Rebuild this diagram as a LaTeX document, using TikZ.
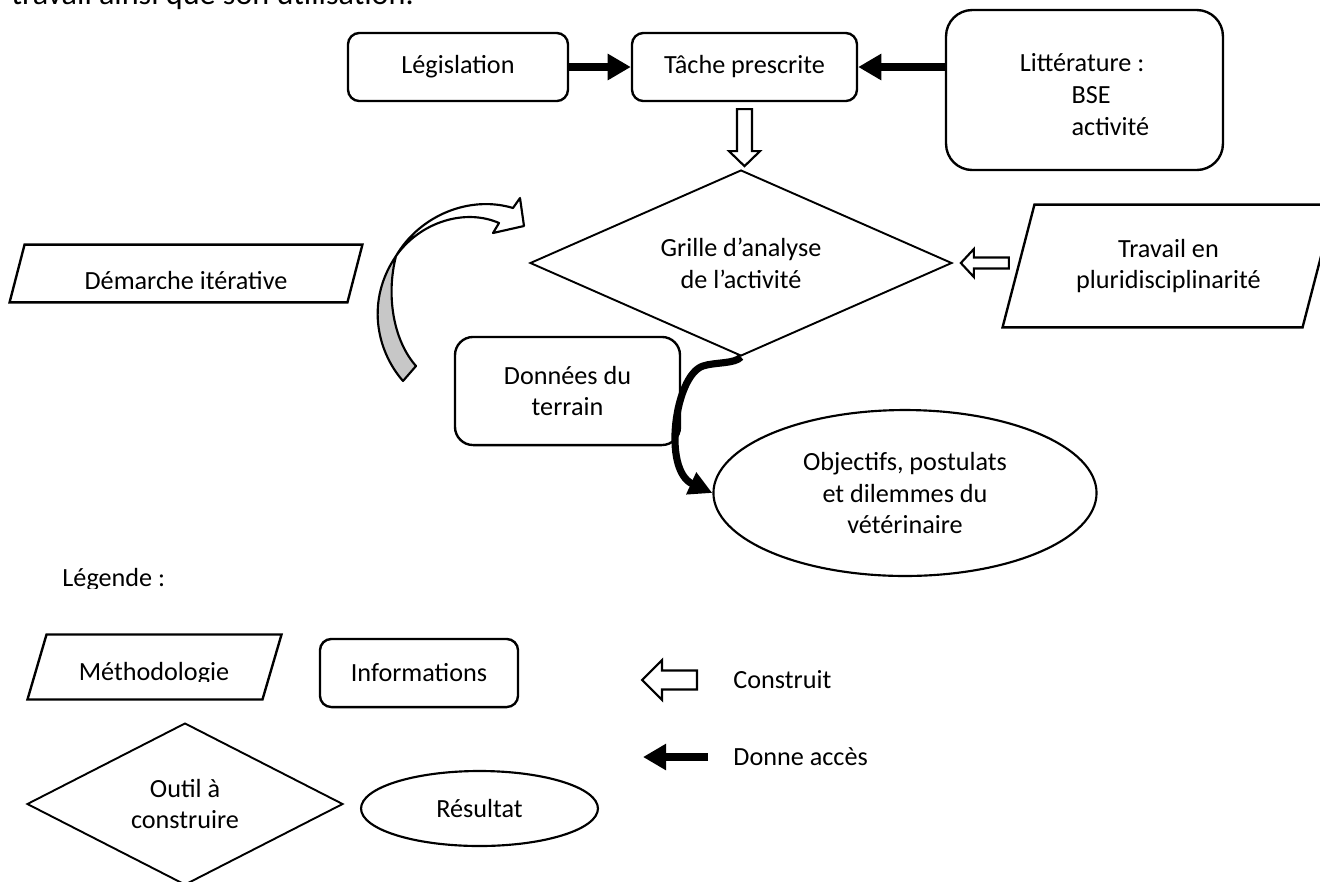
\documentclass[tikz,border=0pt]{standalone}
\usepackage{fontspec}
\setmainfont{Carlito}
\usetikzlibrary{shapes.geometric,arrows.meta}

\begin{document}
\begin{tikzpicture}[x=0.42pt,y=-0.42pt,
  font=\fontsize{11}{13.4}\selectfont,
  info/.style={draw,rounded corners=#1,line width=1pt,align=center,inner sep=0pt},
  info/.default=4.8pt,
  methode/.style={rectangle,align=center,inner sep=0pt},
  methodeline/.style={line width=1pt,line join=miter},
  outil/.style={draw,diamond,line width=0.8pt,align=center,inner sep=0pt},
  resultat/.style={draw,ellipse,line width=0.9pt,align=center,inner sep=0pt},
  access/.style={line width=3.4pt,-{Triangle[length=9.7pt,width=10.5pt]}},
  pics/construit/.style args={#1/#2/#3/#4}{code={
    \draw[line width=0.9pt,fill=white] (0,-#3) -- ({#1-#2},-#3) -- ({#1-#2},-#4) -- (#1,0)
      -- ({#1-#2},#4) -- ({#1-#2},#3) -- (0,#3) -- cycle;}}
]
\useasboundingbox (0,0) rectangle (1320,881);
\clip (0,0) rectangle (1320,881);

%text above
\node[anchor=base west,inner sep=0pt,font=\fontsize{13.5}{15}\selectfont] (intro) at (11,4) {travail ainsi que son utilisation.};

%informations
\node[info,minimum width=92.4pt,minimum height=28.6pt] (legis) at (458,67) {Législation};
\node[info,minimum width=94.5pt,minimum height=28.6pt] (tache) at (744.5,67) {Tâche prescrite};
\node[info=11pt,minimum width=116.3pt,minimum height=67.2pt,align=left] (litt) at (1084.5,90) {\rule{0pt}{11.5pt}Littérature :\\\hspace*{21.8pt}BSE\\\hspace*{21.8pt}activité};
\node[info=7.6pt,minimum width=94.5pt,minimum height=45.4pt] (donnees) at (567.5,391) {Données du\\terrain};

%methodologie
\node[methode,minimum width=147.8pt,minimum height=23.9pt] (demarche) at (186,273.5) {};
\draw[methodeline] ([xshift=6.3pt]demarche.north west) -- (demarche.north east)
  -- ([xshift=-6.3pt]demarche.south east) -- (demarche.south west) -- cycle;
\begin{scope}
 \clip (0,240) rectangle (400,288);
 \node[anchor=base,inner sep=0pt] (demarchetxt) at (186,289) {Démarche itérative};
\end{scope}
\node[methode,minimum width=139pt,minimum height=51.2pt] (travail) at (1168.5,266) {Travail en\\pluridisciplinarité};
\draw[methodeline] ([xshift=13.4pt]travail.north west) -- (travail.north east)
  -- ([xshift=-13.4pt]travail.south east) -- (travail.south west) -- cycle;

%outil et resultat
\node[outil,aspect=2.27,minimum width=177.2pt,minimum height=78.1pt] (grille) at (741,263) {Grille d’analyse\\de l’activité};
\node[resultat,minimum width=160.9pt,minimum height=69.7pt] (objectifs) at (905,493) {Objectifs, postulats\\et dilemmes du\\vétérinaire};

%donne acces
\draw[access] (legis) -- (tache);
\draw[access] (litt.west |- tache.east) -- (tache.east);
\draw[line width=3pt,-{Triangle[length=9.8pt,width=9.6pt]}] (grille.south) .. controls (735,364) and (715,362) .. (703,366)
  .. controls (675,375) and (662,470) .. (objectifs.west);

%construit
\pic[rotate=-90] at ([yshift=-2.9pt]tache.south) {construit=57/15/7.5/15.5};
\pic[rotate=180] at ([xshift=23.5pt]grille.east) {construit=48/13/5.5/14};

%demarche iterative
\draw[line width=0.9pt,line join=round,fill=black!22] (396,256) .. controls (366,300) and (376,350) .. (403,381)
  -- (416,366) .. controls (393,340) and (386,295) .. (396,256) -- cycle;
\draw[line width=0.9pt,line join=round,fill=white] (396,256) .. controls (420,215) and (470,195) .. (513,208)
  -- (520,198) -- (524,226) -- (493,233) -- (499,223) .. controls (465,208) and (420,222) .. (396,256) -- cycle;

%legende
\begin{scope}
 \clip (0,550) rectangle (300,588);
 \node[anchor=base west,inner sep=0pt] (legende) at (62,586) {Légende :};
\end{scope}
\node[methode,minimum width=106.3pt,minimum height=26.9pt] (methodo) at (154.5,667) {};
\draw[methodeline] ([xshift=8pt]methodo.north west) -- (methodo.north east)
  -- ([xshift=-8pt]methodo.south east) -- (methodo.south west) -- cycle;
\begin{scope}
 \clip (0,630) rectangle (300,681);
 \node[anchor=base,inner sep=0pt] (methodotxt) at (154,680) {Méthodologie};
\end{scope}
\node[info,minimum width=83.2pt,minimum height=28.6pt] (infos) at (419,673) {Informations};
\node[outil,aspect=1.95,minimum width=132.7pt,minimum height=68pt] (outil) at (185,804) {Outil à\\construire};
\node[resultat,minimum width=99.5pt,minimum height=31.5pt] (res) at (479.5,808.5) {Résultat};

\node[anchor=west,inner sep=0pt] (construit) at (733,680) {Construit};
\node[anchor=west,inner sep=0pt] (donne) at (733,757) {Donne accès};
\pic[rotate=180] at ([xshift=-15.1pt]construit.west) {construit=55/20/9.5/20};
\draw[access] ([xshift=-10.5pt]donne.west) -- ++(-65,0);
\end{tikzpicture}
\end{document}
